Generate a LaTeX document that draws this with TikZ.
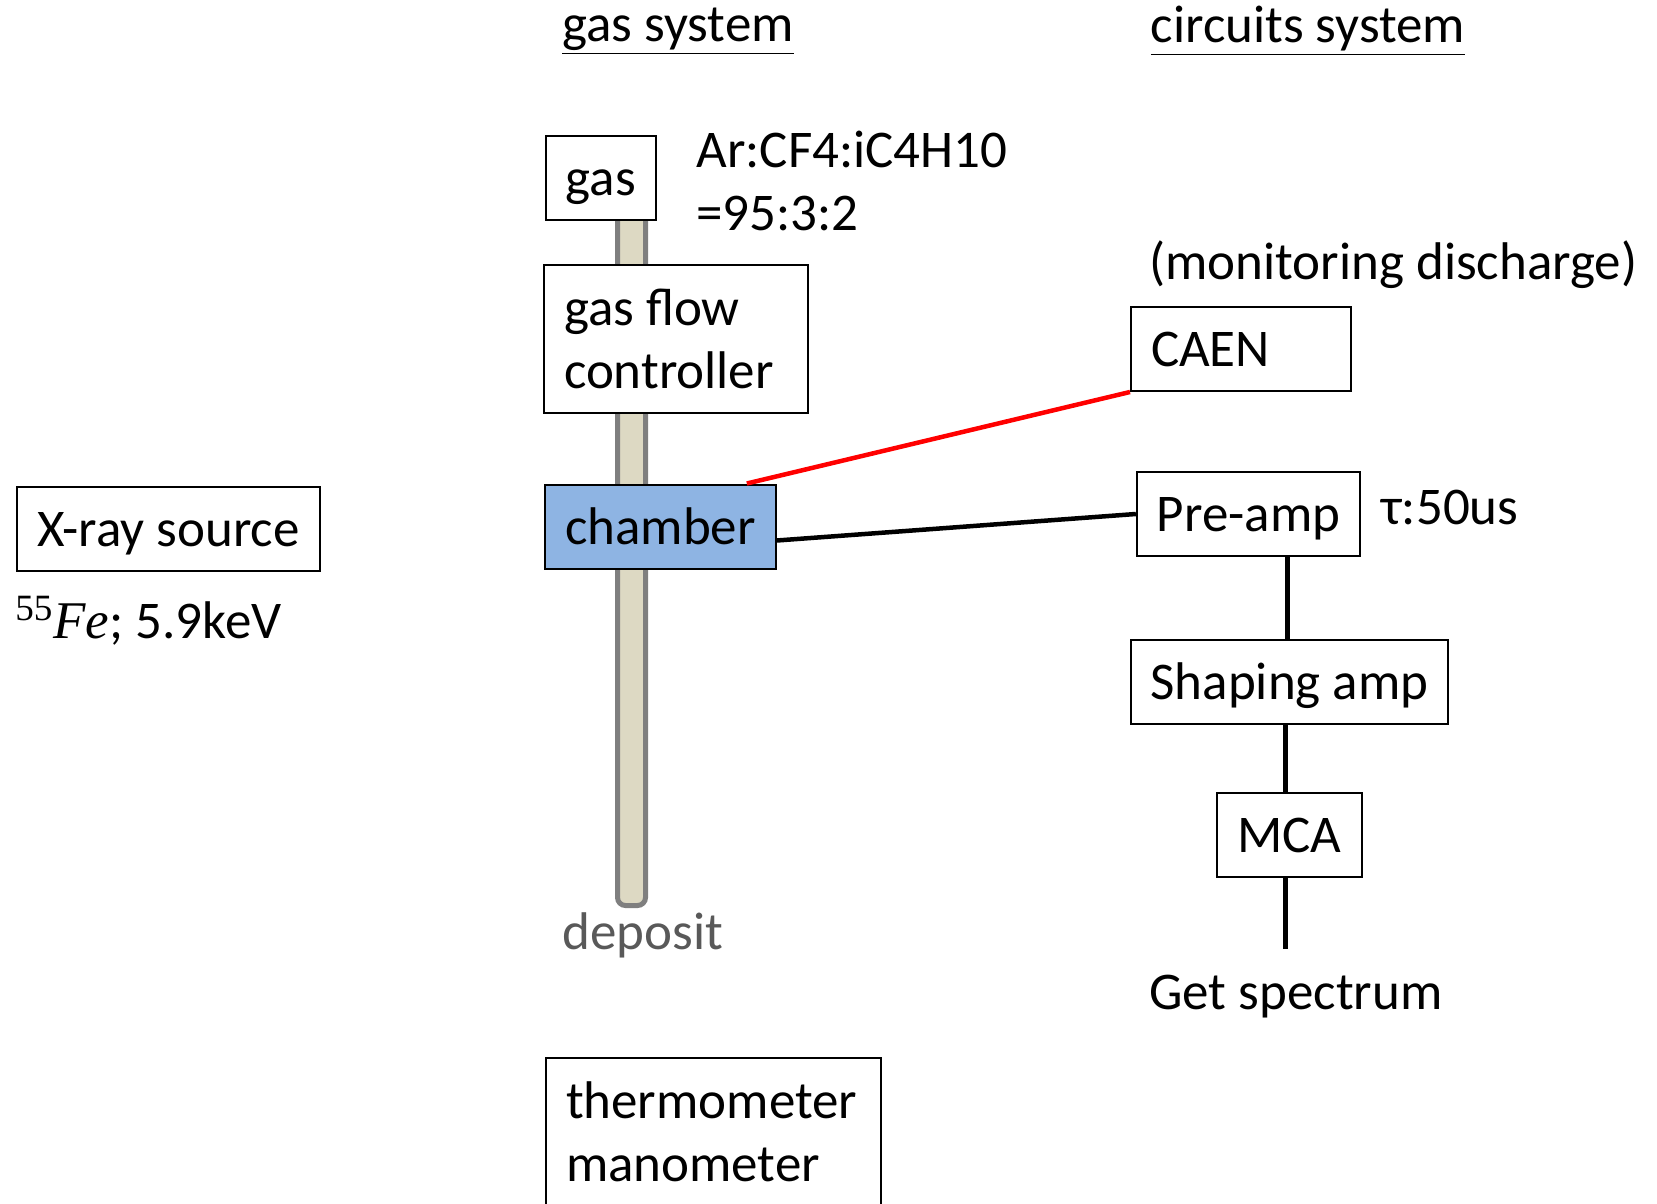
\documentclass[tikz,border=0pt]{standalone}
\usepackage{fontspec}
\setmainfont{Carlito}
\newfontfamily\serifmath{Liberation Serif}
\definecolor{chamberblue}{HTML}{8EB4E3}
\definecolor{pipefill}{HTML}{DDD9C3}
\definecolor{pipeline}{HTML}{7F7F7F}
\definecolor{deposittext}{HTML}{595959}

\begin{document}
\begin{tikzpicture}[
  x=0.5pt, y=-0.5pt,
  every node/.style={font=\fontsize{26.5}{31.5}\selectfont},
  box/.style={rectangle,draw,line width=1pt,fill=white,inner xsep=10pt,inner ysep=0pt,minimum height=42pt,text height=22pt,text depth=4.5pt},
  tall box/.style={rectangle,draw,line width=1pt,fill=white,inner xsep=10pt,minimum height=74pt,align=flush left},
  note/.style={inner sep=0pt,align=left},
  wire/.style={line width=2.25pt},
]
  \useasboundingbox (0,0) rectangle (1657,1203);
  \draw[pipeline,fill=pipefill,line width=2.5pt,rounded corners=4pt] (617.5,200) rectangle (645.5,905.5);

  \node[box] (gas) at (601,178) {gas};
  \node[tall box,text width=112pt] (flow) at (676,339) {gas flow\\controller};
  \node[box,fill=chamberblue] (chamber) at (660.5,526.5) {chamber};
  \node[box] (xray) at (168.5,529) {X-ray source};
  \node[tall box,text width=147.5pt] (thermo) at (713.5,1132) {thermometer\\manometer};
  \node[box,text width=90pt,align=flush left] (caen) at (1241,349) {CAEN};
  \node[box] (preamp) at (1248.5,514) {Pre-amp};
  \node[box] (shaping) at (1289.5,682) {Shaping amp};
  \node[box] (mca) at (1289.5,834.5) {MCA};

  \node[note] (gassys) at (678,31) {\underline{gas system}};
  \node[note] (circsys) at (1308,31) {\underline{circuits system}};
  \node[note,anchor=west] (mixture) at (696,181) {Ar:CF4:iC4H10\\=95:3:2};
  \node[note,anchor=west] (monitor) at (1149,265) {(monitoring discharge)};
  \node[note,anchor=west] (tau) at (1381,508) {τ:50us};
  \node[note,anchor=west] (fe) at (15,621) {{\serifmath\textsuperscript{55}\itshape Fe}; 5.9keV};
  \node[note,text=deposittext] (deposit) at (643,935) {deposit};
  \node[note,anchor=west] (spectrum) at (1149,997) {Get spectrum};
  \coordinate (specend) at ([xshift=-2pt]mca.south |- 0,949);

  \draw[wire,red] ([xshift=-15pt]chamber.north east) -- (caen.south west);
  \draw[wire] ([yshift=-7pt]chamber.east) -- (preamp.west);
  \draw[wire] ([xshift=-1pt]preamp.south -| shaping.north) -- ([xshift=-1pt]shaping.north);
  \draw[wire] ([xshift=-2pt]shaping.south) -- ([xshift=-2pt]mca.north);
  \draw[wire] ([xshift=-2pt]mca.south) -- (specend);
\end{tikzpicture}
\end{document}
